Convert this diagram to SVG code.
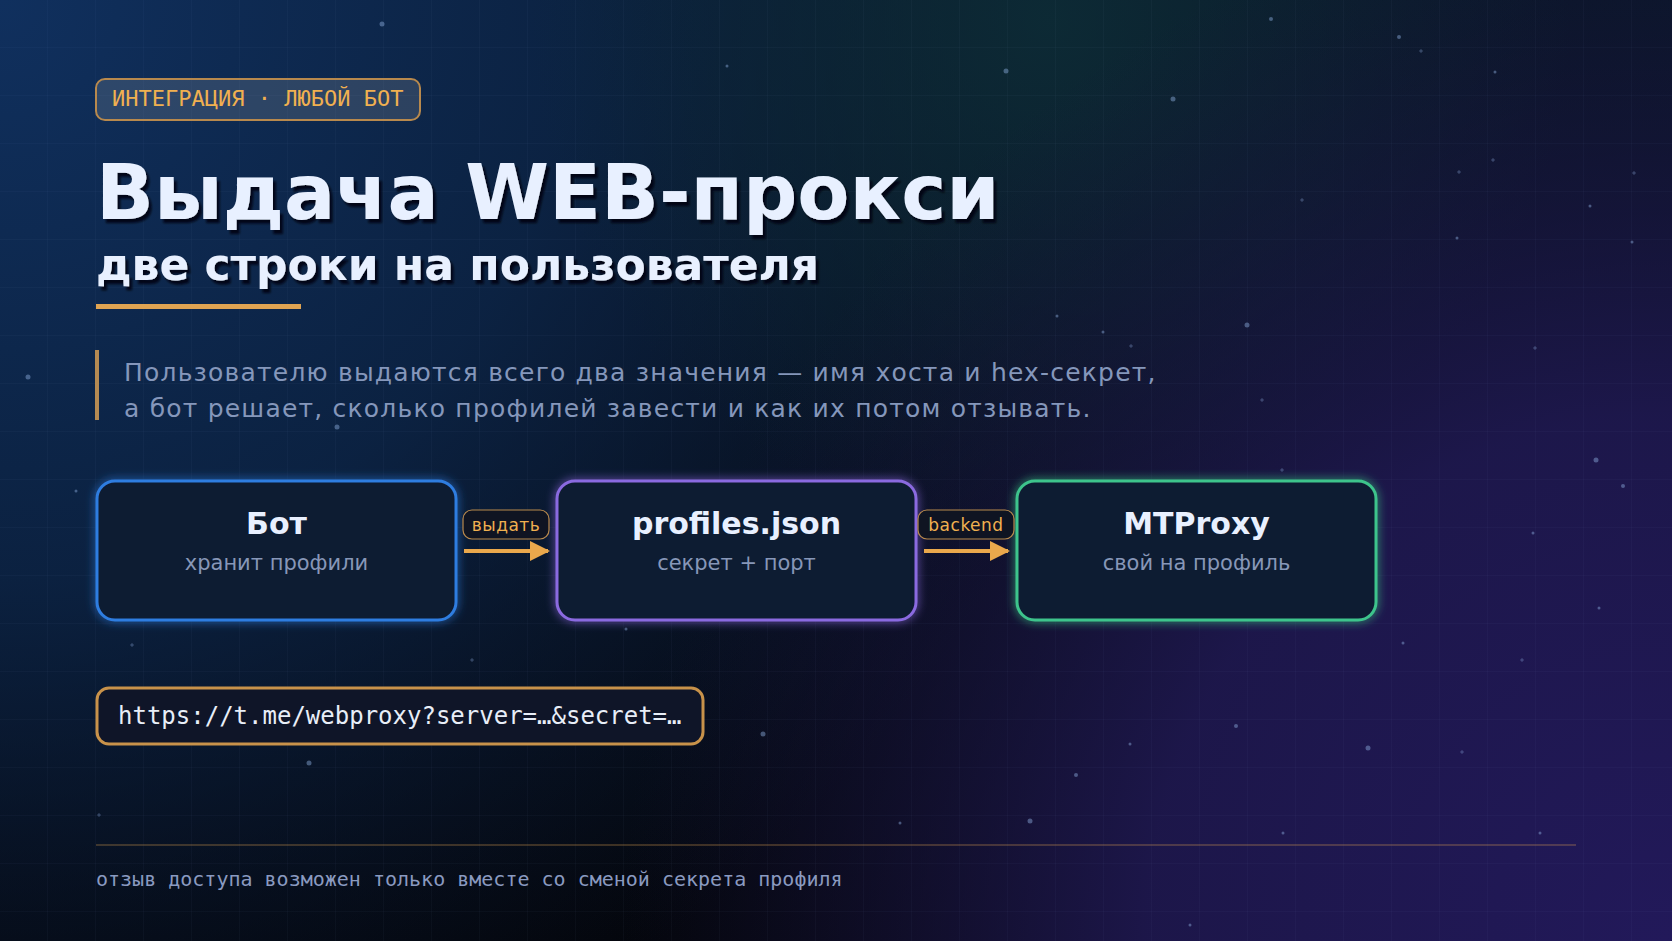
<svg xmlns="http://www.w3.org/2000/svg" width="1672" height="941" viewBox="0 0 1672 941">
  <defs>
    <radialGradient id="bgBlue" cx="0" cy="0" r="1150" gradientUnits="userSpaceOnUse">
      <stop offset="0" stop-color="#10305e"/>
      <stop offset="0.5" stop-color="#0c2548" stop-opacity="0.85"/>
      <stop offset="1" stop-color="#0a1a36" stop-opacity="0"/>
    </radialGradient>
    <radialGradient id="bgTeal" cx="1050" cy="20" r="520" gradientUnits="userSpaceOnUse">
      <stop offset="0" stop-color="#0d2c36" stop-opacity="0.9"/>
      <stop offset="1" stop-color="#0d2c36" stop-opacity="0"/>
    </radialGradient>
    <radialGradient id="bgPurple" cx="1672" cy="941" r="1050" gradientUnits="userSpaceOnUse">
      <stop offset="0" stop-color="#22195a"/>
      <stop offset="0.5" stop-color="#1f1850" stop-opacity="0.9"/>
      <stop offset="1" stop-color="#1a1440" stop-opacity="0"/>
    </radialGradient>
    <linearGradient id="bgBase" x1="0" y1="0" x2="0" y2="1">
      <stop offset="0" stop-color="#0a1628"/>
      <stop offset="1" stop-color="#04060c"/>
    </linearGradient>
    <pattern id="grid" width="48" height="48" patternUnits="userSpaceOnUse">
      <path d="M48 0V48M0 48H48" fill="none" stroke="#7aa0d8" stroke-opacity="0.07" stroke-width="1"/>
    </pattern>
    <filter id="shadow" x="-5%" y="-20%" width="110%" height="150%">
      <feDropShadow dx="3" dy="4" stdDeviation="1" flood-color="#02050c" flood-opacity="0.85"/>
    </filter>
    <filter id="glow" x="-10%" y="-20%" width="120%" height="140%">
      <feGaussianBlur in="SourceGraphic" stdDeviation="5" result="b"/>
      <feMerge><feMergeNode in="b"/><feMergeNode in="SourceGraphic"/></feMerge>
    </filter>
    <marker id="arrow" viewBox="0 0 20 20" refX="18" refY="10" markerWidth="20" markerHeight="20" markerUnits="userSpaceOnUse" orient="auto">
      <path d="M0 0L20 10L0 20Z" fill="#eaa84c"/>
    </marker>
  </defs>
  <style>
    .star{fill:#8fb0e0;opacity:0.45}
    .cross{stroke:#8fb0e0;stroke-opacity:0.35;stroke-width:1;fill:none}
    .node-box{fill:#111a30;stroke-width:3}
    .node-title{font-family:"DejaVu Sans",sans-serif;font-weight:bold;font-size:30px;fill:#e8f0ff;text-anchor:middle}
    .node-sub{font-family:"DejaVu Sans",sans-serif;font-size:21px;fill:#8797b8;text-anchor:middle}
    .lbl-box{fill:#0f1422;stroke:#b8894d;stroke-width:1.2}
    .lbl{font-family:"DejaVu Sans",sans-serif;font-size:17px;letter-spacing:0.5px;fill:#f0b050;text-anchor:middle}
    .conn{stroke:#eaa84c;stroke-width:4;fill:none}
  </style>

  <!-- background -->
  <rect width="1672" height="941" fill="url(#bgBase)"/>
  <rect width="1672" height="941" fill="url(#bgBlue)"/>
  <rect width="1672" height="941" fill="url(#bgTeal)"/>
  <rect width="1672" height="941" fill="url(#bgPurple)"/>
  <rect width="1672" height="941" fill="url(#grid)"/>

  <g id="stars">
    <circle class="star" cx="382" cy="24" r="2.5"/>
    <circle class="star" cx="1006" cy="71" r="2.5"/>
    <circle class="star" cx="1173" cy="99" r="2.5"/>
    <circle class="star" cx="1271" cy="19" r="2"/>
    <circle class="star" cx="1399" cy="37" r="2"/>
    <circle class="star" cx="1247" cy="325" r="2.5"/>
    <circle class="star" cx="28" cy="377" r="2.5"/>
    <circle class="star" cx="337" cy="427" r="2.5"/>
    <circle class="star" cx="1596" cy="460" r="2.5"/>
    <circle class="star" cx="1623" cy="486" r="2"/>
    <circle class="star" cx="309" cy="763" r="2.5"/>
    <circle class="star" cx="763" cy="734" r="2.5"/>
    <circle class="star" cx="1076" cy="775" r="2"/>
    <circle class="star" cx="1030" cy="821" r="2.5"/>
    <circle class="star" cx="1368" cy="748" r="2.5"/>
    <circle class="star" cx="1236" cy="726" r="2"/>
    <circle class="star" cx="1130" cy="744" r="1.5"/>
    <circle class="star" cx="1533" cy="533" r="1.5"/>
    <circle class="star" cx="1590" cy="206" r="1.5"/>
    <circle class="star" cx="1632" cy="242" r="1.5"/>
    <circle class="star" cx="1495" cy="72" r="1.5"/>
    <circle class="star" cx="1057" cy="316" r="1.5"/>
    <circle class="star" cx="1103" cy="332" r="1.5"/>
    <circle class="star" cx="727" cy="66" r="1.5"/>
    <circle class="star" cx="1457" cy="238" r="1.5"/>
    <circle class="star" cx="900" cy="823" r="1.5"/>
    <circle class="star" cx="1283" cy="833" r="1.5"/>
    <circle class="star" cx="1540" cy="833" r="1.5"/>
    <circle class="star" cx="1190" cy="925" r="1.5"/>
    <circle class="star" cx="626" cy="629" r="1.5"/>
    <circle class="star" cx="76" cy="491" r="1.5"/>
    <circle class="star" cx="1599" cy="608" r="1.5"/>
    <circle class="star" cx="1403" cy="643" r="1.5"/>
    <path class="cross" d="M1419 51h4M1421 49v4M1491 160h4M1493 158v4M1300 200h4M1302 198v4M1457 172h4M1459 170v4M1632 173h4M1634 171v4M1533 348h4M1535 346v4M1129 346h4M1131 344v4M1280 470h4M1282 468v4M1260 400h4M1262 398v4M1520 660h4M1522 658v4M1460 752h4M1462 750v4M130 645h4M132 643v4M470 660h4M472 658v4M592 617h4M594 615v4M236 185h4M238 183v4M97 815h4M99 813v4M670 590h4M672 588v4"/>
  </g>

  <!-- header -->
  <g id="tag">
    <rect x="96" y="79" width="324" height="41" rx="9" fill="#a0a8b0" fill-opacity="0.22" stroke="#b8894d" stroke-width="2"/>
    <text x="112" y="106" font-family="DejaVu Sans Mono, monospace" font-size="22" fill="#f0b050">ИНТЕГРАЦИЯ · ЛЮБОЙ БОТ</text>
  </g>
  <g id="title" filter="url(#shadow)">
    <text x="96" y="219" font-family="DejaVu Sans, sans-serif" font-weight="bold" font-size="76" fill="#e8f0ff">Выдача WEB-прокси</text>
    <text x="96" y="280" font-family="DejaVu Sans, sans-serif" font-weight="bold" font-size="44" fill="#e8f0ff">две строки на пользователя</text>
  </g>
  <rect id="underline" x="96" y="304" width="205" height="5" fill="#e0a452"/>

  <g id="quote">
    <rect x="95" y="350" width="4" height="70" fill="#b58a52"/>
    <text font-family="DejaVu Sans, sans-serif" font-size="25" letter-spacing="1.2" fill="#8597bb">
      <tspan x="124" y="381">Пользователю выдаются всего два значения — имя хоста и hex-секрет,</tspan>
      <tspan x="124" y="417">а бот решает, сколько профилей завести и как их потом отзывать.</tspan>
    </text>
  </g>

  <!-- nodes -->
  <g id="node-bot">
    <rect class="node-box" x="97" y="481" width="359" height="139" rx="18" stroke="#2f7de0" filter="url(#glow)"/>
    <text class="node-title" x="276.5" y="534">Бот</text>
    <text class="node-sub" x="276.5" y="570">хранит профили</text>
  </g>
  <g id="node-profiles">
    <rect class="node-box" x="557" y="481" width="359" height="139" rx="18" stroke="#8a6ae0" filter="url(#glow)"/>
    <text class="node-title" x="736.5" y="534">profiles.json</text>
    <text class="node-sub" x="736.5" y="570">секрет + порт</text>
  </g>
  <g id="node-mtproxy">
    <rect class="node-box" x="1017" y="481" width="359" height="139" rx="18" stroke="#3ec48c" filter="url(#glow)"/>
    <text class="node-title" x="1196.5" y="534">MTProxy</text>
    <text class="node-sub" x="1196.5" y="570">свой на профиль</text>
  </g>

  <!-- connectors -->
  <g id="connectors">
    <line class="conn" x1="464" y1="551" x2="548" y2="551" marker-end="url(#arrow)"/>
    <rect class="lbl-box" x="463" y="510" width="86" height="29" rx="9"/>
    <text class="lbl" x="506" y="531">выдать</text>
    <line class="conn" x1="924" y1="551" x2="1008" y2="551" marker-end="url(#arrow)"/>
    <rect class="lbl-box" x="918" y="510" width="96" height="29" rx="9"/>
    <text class="lbl" x="966" y="531">backend</text>
  </g>

  <!-- url -->
  <g id="url">
    <rect x="97" y="688" width="606" height="56" rx="12" fill="#0f1528" stroke="#c8924a" stroke-width="3"/>
    <text x="118" y="724" font-family="DejaVu Sans Mono, monospace" font-size="24" fill="#e8eef8">https://t.me/webproxy?server=…&amp;secret=…</text>
  </g>

  <!-- footer -->
  <line x1="96" y1="845" x2="1576" y2="845" stroke="#e0a452" stroke-opacity="0.35" stroke-width="1.5"/>
  <text id="footer" x="96" y="886" font-family="DejaVu Sans Mono, monospace" font-size="20" fill="#8a9ac0">отзыв доступа возможен только вместе со сменой секрета профиля</text>
</svg>
